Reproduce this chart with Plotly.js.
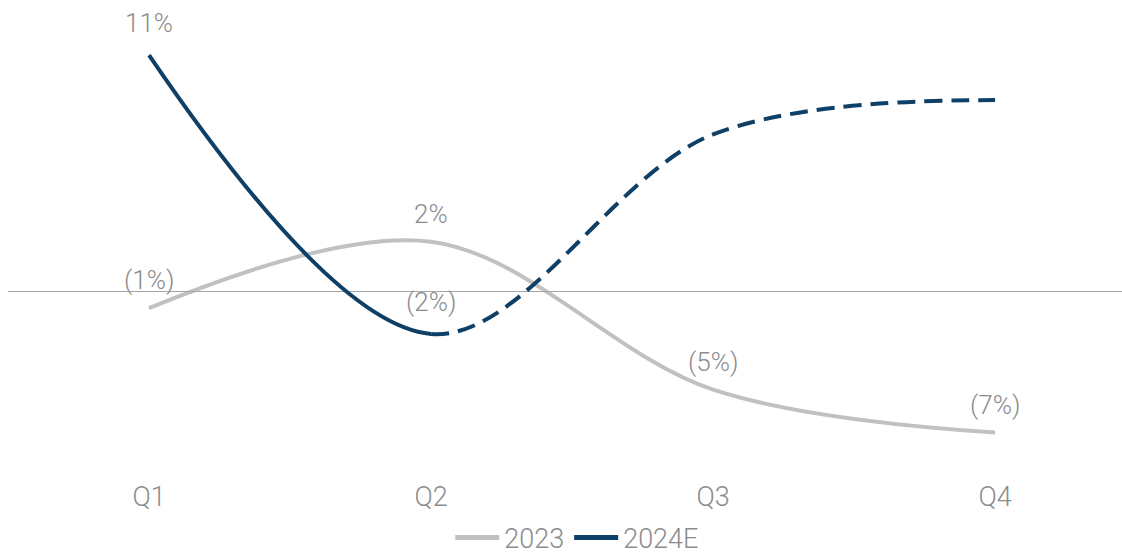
<!DOCTYPE html>
<html>
<head>
<meta charset="utf-8">
<script src="https://cdn.plot.ly/plotly-3.0.1.min.js"></script>
<style>html,body{margin:0;padding:0;background:#fff;}#chart{width:1122px;height:557px;}</style>
</head>
<body>
<div id="chart"></div>
<script>
const quarters = ['Q1', 'Q2', 'Q3', 'Q4'];
const values2023 = [-0.8, 2.3, -4.6, -6.6];
const values2024E = [11, -2, 7.3, 8.9];
const labels2023 = ['(1%)', '2%', '(5%)', '(7%)'];
const labels2024E = ['11%', '(2%)', '', ''];
const actualCount2024E = 2; // Q1..Q2 actual (solid), rest estimated (dashed)

const xIdx = quarters.map((q, i) => i);
const GRAY = '#c1c1c1';
const NAVY = '#0e3f66';
const TXT = '#8c8c8c';
const FONT = 'Roboto, "Open Sans", sans-serif';

const xMin = -0.5, xMax = 3.45;
const splitX = actualCount2024E - 1;
const splitFrac = (splitX - xMin) / (xMax - xMin);
const yRange = [-7.88, 13.1];

const traces = [
  {x: xIdx, y: values2023, name: '2023', type: 'scatter', mode: 'lines',
   line: {color: GRAY, width: 4, shape: 'spline', smoothing: 1}, xaxis: 'x', yaxis: 'y', showlegend: true},
  {x: xIdx, y: values2024E, name: '2024E', type: 'scatter', mode: 'lines',
   line: {color: NAVY, width: 4, shape: 'spline', smoothing: 1}, xaxis: 'x2', yaxis: 'y', showlegend: true},
  {x: xIdx, y: values2024E, name: '2024E', type: 'scatter', mode: 'lines',
   line: {color: NAVY, width: 4, shape: 'spline', smoothing: 1, dash: '18px,9px'}, xaxis: 'x3', yaxis: 'y', showlegend: false}
];

const annotations = [];
quarters.forEach((q, i) => {
  if (labels2023[i]) annotations.push({x: i, y: values2023[i], xref: 'x', yref: 'y', text: labels2023[i],
    showarrow: false, yanchor: 'bottom', yshift: 11, font: {family: FONT, size: 26, color: TXT, weight: 300}});
  if (labels2024E[i]) annotations.push({x: i, y: values2024E[i], xref: 'x', yref: 'y', text: labels2024E[i],
    showarrow: false, yanchor: 'bottom', yshift: 15, font: {family: FONT, size: 26, color: TXT, weight: 300}});
});

const layout = {
  width: 1122, height: 557,
  margin: {l: 8, r: 0, t: 10, b: 5, autoexpand: false},
  paper_bgcolor: '#fff', plot_bgcolor: 'rgba(0,0,0,0)',
  font: {family: FONT, color: TXT, size: 26, weight: 300},
  xaxis: {range: [xMin, xMax], domain: [0, 1], tickvals: xIdx, ticktext: quarters,
    showgrid: false, zeroline: false, showline: false, ticks: '', ticklabelstandoff: 18,
    tickfont: {family: FONT, size: 27, color: TXT, weight: 300}},
  xaxis2: {range: [xMin, splitX], domain: [0, splitFrac], anchor: 'y', visible: false},
  xaxis3: {range: [splitX, xMax], domain: [splitFrac, 1], anchor: 'y', visible: false},
  yaxis: {range: yRange, domain: [0.1697, 1], showgrid: false, showticklabels: false, zeroline: true,
    zerolinecolor: '#a6a6a6', zerolinewidth: 1, showline: false, ticks: ''},
  showlegend: true,
  legend: {orientation: 'h', x: 0.511, xanchor: 'center', y: 0.026, yanchor: 'middle',
    font: {family: FONT, size: 27, color: TXT, weight: 300}, itemwidth: 44, tracegroupgap: 0,
    itemsizing: 'constant'},
  annotations: annotations
};

Plotly.newPlot('chart', traces, layout, {displayModeBar: false, staticPlot: true});
</script>
</body>
</html>
